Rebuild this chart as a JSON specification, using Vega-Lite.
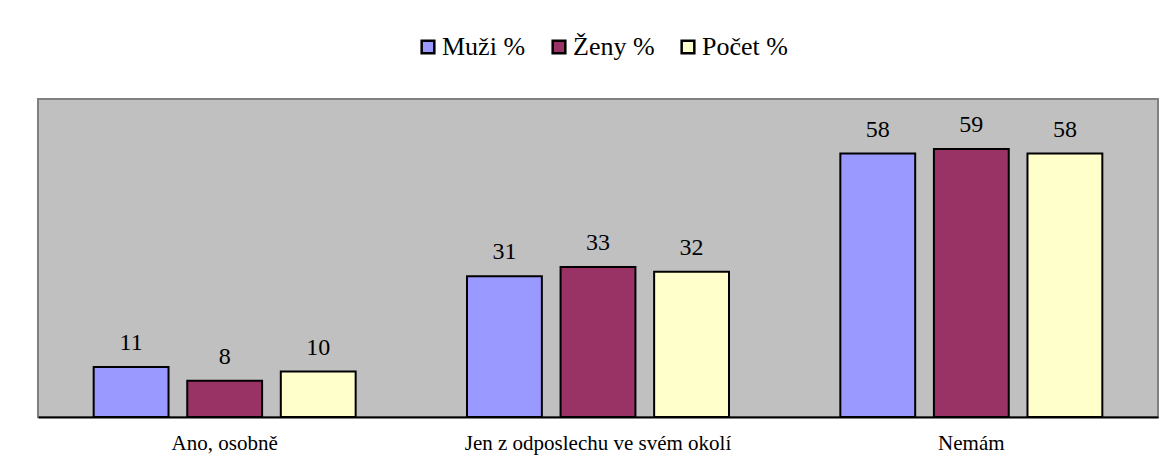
{
  "$schema": "https://vega.github.io/schema/vega-lite/v6.json",
  "width": 1120,
  "height": 318,
  "autosize": {"type": "none"},
  "padding": {"left": 38, "top": 99, "right": 16, "bottom": 49},
  "background": "white",
  "config": {
    "font": "Liberation Serif",
    "view": {"fill": "#C0C0C0", "stroke": "#808080", "strokeWidth": 2}
  },
  "data": {
    "values": [
      {"kat": "Ano, osobně", "serie": "Muži %", "hodnota": 11},
      {"kat": "Ano, osobně", "serie": "Ženy %", "hodnota": 8},
      {"kat": "Ano, osobně", "serie": "Počet %", "hodnota": 10},
      {"kat": "Jen z odposlechu ve svém okolí", "serie": "Muži %", "hodnota": 31},
      {"kat": "Jen z odposlechu ve svém okolí", "serie": "Ženy %", "hodnota": 33},
      {"kat": "Jen z odposlechu ve svém okolí", "serie": "Počet %", "hodnota": 32},
      {"kat": "Nemám", "serie": "Muži %", "hodnota": 58},
      {"kat": "Nemám", "serie": "Ženy %", "hodnota": 59},
      {"kat": "Nemám", "serie": "Počet %", "hodnota": 58}
    ]
  },
  "encoding": {
    "x": {
      "field": "kat", "type": "nominal", "sort": null,
      "scale": {"paddingInner": 0, "paddingOuter": 0},
      "axis": {"title": null, "labelAngle": 0, "ticks": false, "domainColor": "#000000", "domainWidth": 2,
               "labelFontSize": 21, "labelColor": "#000000", "labelPadding": 15, "labelFont": "Liberation Serif",
               "labelLimit": 0}
    },
    "xOffset": {
      "field": "serie", "type": "nominal", "sort": ["Muži %", "Ženy %", "Počet %"],
      "scale": {"paddingInner": 0.2, "paddingOuter": 0.595}
    },
    "y": {
      "field": "hodnota", "type": "quantitative",
      "scale": {"domain": [0, 70], "nice": false},
      "axis": null
    }
  },
  "layer": [
    {
      "mark": {"type": "bar", "stroke": "#000000", "strokeWidth": 2},
      "encoding": {
        "color": {
          "field": "serie", "type": "nominal", "sort": ["Muži %", "Ženy %", "Počet %"],
          "scale": {"domain": ["Muži %", "Ženy %", "Počet %"], "range": ["#9999FF", "#993366", "#FFFFCC"]},
          "legend": {
            "title": null, "orient": "none", "direction": "horizontal",
            "legendX": 377, "legendY": -65,
            "symbolType": "square", "symbolSize": 160, "symbolStrokeColor": "#000000", "symbolStrokeWidth": 2.5,
            "symbolOpacity": 1,
            "labelFontSize": 26, "labelFont": "Liberation Serif", "labelColor": "#000000",
            "labelOffset": 1, "columnPadding": 20
          }
        }
      }
    },
    {
      "mark": {"type": "text", "baseline": "alphabetic", "dy": -17, "fontSize": 24, "font": "Liberation Serif", "color": "#000000"},
      "encoding": {
        "text": {"field": "hodnota", "type": "quantitative"}
      }
    }
  ]
}
